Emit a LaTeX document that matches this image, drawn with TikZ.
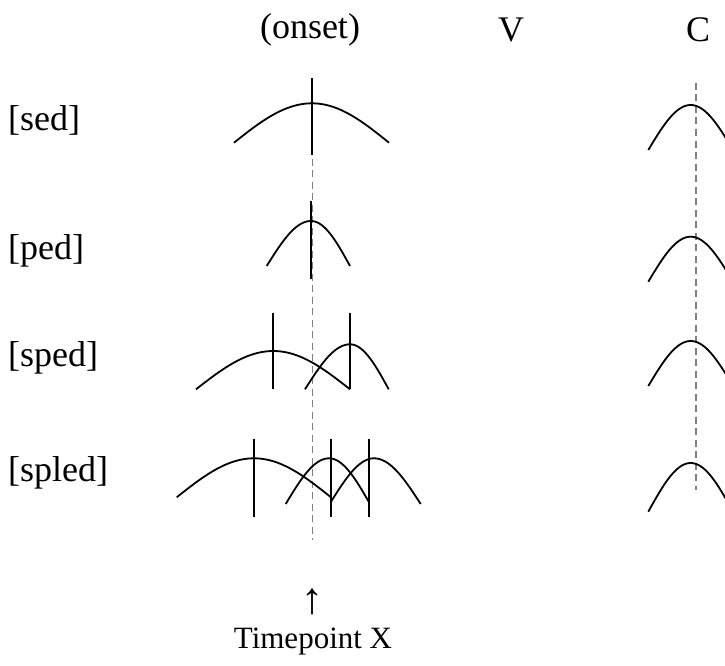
\documentclass[tikz,border=0pt]{standalone}
\usepackage{fontspec}
\setmainfont{Liberation Serif}
\begin{document}
\begin{tikzpicture}[x=1pt,y=-1pt,
  curve/.style={line width=1.8pt,line join=round},
  tick/.style={line width=1.8pt},
  guide/.style={line width=1.6pt,black!50,dash pattern=on 7pt off 4.5pt},
  lab/.style={inner sep=0pt,font=\fontsize{36}{42}\selectfont},
  note/.style={inner sep=0pt,font=\fontsize{31}{37}\selectfont}]
\useasboundingbox (0,0) rectangle (725,666);

% hump: left end (#1,#2), peak (#3,#4), right end (#5,#6), cosine profile
\newcommand\hump[6]{%
  \draw[curve] plot[domain=-90:0,samples=25]
      ({#3+(#3-#1)*\x/90},{#4+(#2-#4)*(1-cos(\x))})
    -- plot[domain=0:90,samples=25]
      ({#3+(#5-#3)*\x/90},{#4+(#6-#4)*(1-cos(\x))});}

% dashed guides
\draw[guide] (312.3,78) -- (312.3,540);
\draw[guide] (696,83) -- (696,490);

% column headings
\node[lab] (hon) at (310,30) {(onset)};
\node[lab] (hv) at (511,30) {V};
\node[lab] (hc) at (698,30) {C};

% row labels
\node[lab,anchor=west] (sed) at (8,120) {[sed]};
\node[lab,anchor=west] (ped) at (8,251) {[ped]};
\node[lab,anchor=west] (sped) at (8,358) {[sped]};
\node[lab,anchor=west] (spled) at (8,473) {[spled]};

% [sed]
\hump{234}{142.7}{312}{103.3}{389}{142.7}
\draw[tick] (312,78) -- (312,155);

% [ped]
\hump{266.7}{266}{311}{221}{350}{266}
\draw[tick] (311,201) -- (311,279);

% [sped]
\hump{196}{389.3}{273.3}{351}{350}{389.3}
\hump{305}{389.3}{350}{344.3}{388.7}{389.3}
\draw[tick] (273.3,312.7) -- (273.3,389.3);
\draw[tick] (350,312.7) -- (350,389.3);

% [spled]
\hump{176.7}{497.3}{254}{458.3}{331}{497.3}
\hump{285.7}{504}{329}{458.3}{369.3}{502.7}
\hump{331}{501.7}{374}{458.3}{420.7}{504}
\draw[tick] (254,439.3) -- (254,516.7);
\draw[tick] (331,439.3) -- (331,516.7);
\draw[tick] (369.3,439.3) -- (369.3,516.7);

% C column humps, cut off at the right edge
\begin{scope}
  \clip (0,0) rectangle (725,666);
  \hump{648.3}{150}{690.7}{105}{733}{150}
  \hump{648.3}{281.7}{690.7}{236.7}{733}{281.7}
  \hump{648.3}{386}{690.7}{341}{733}{386}
  \hump{648.3}{511.7}{690.7}{463}{733}{511.7}
\end{scope}

% time marker
\node[inner sep=0pt,font=\fontsize{44}{48}\selectfont] (arr) at (312,602) {↑};
\node[note] (tx) at (313,642) {Timepoint X};
\end{tikzpicture}
\end{document}
